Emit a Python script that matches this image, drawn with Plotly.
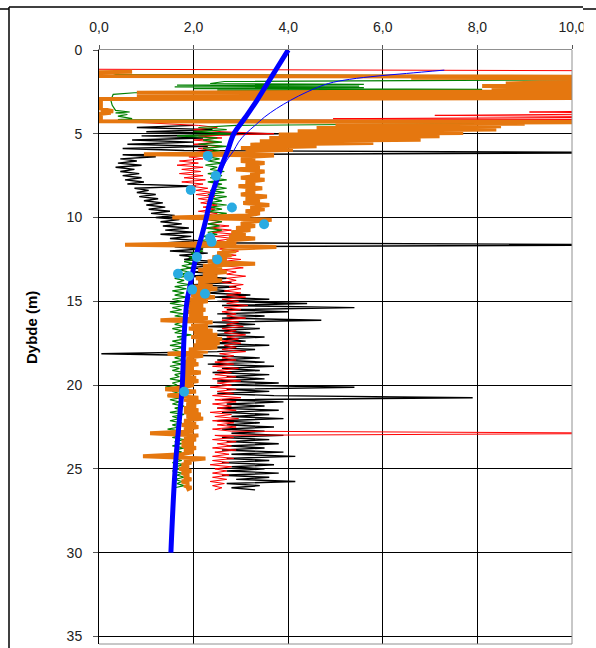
import plotly.graph_objects as go

# ---------------- data ----------------
STEP = 0.125

# black series (regular depth grid from 4.5 m)
black_start = 4.5
black_vals = [
    2.0, 0.8, 2.4, 1.0, 3.8, 0.9, 2.2, 0.7,
    2.0, 0.6, 2.3, 0.5, 1.8, 12.0, 0.5, 1.2,
    0.45, 0.8, 0.4, 0.9, 0.35, 0.75, 0.45, 0.85,
    0.5, 0.9, 0.55, 0.95, 0.6, 2.05, 0.75, 1.05,
    0.8, 1.2, 0.85, 1.25, 0.95, 1.35, 1.0, 1.4,
    1.05, 1.5, 1.1, 1.6, 1.2, 1.7, 1.3, 1.75,
    1.35, 1.9, 1.4, 2.0, 1.3, 1.95, 1.5, 2.1,
    1.45, 12.0, 1.6, 2.2, 1.5, 2.3, 1.7, 2.1,
    1.8, 2.45, 1.9, 2.4, 1.85, 2.6, 2.0, 2.5,
    1.9, 2.7, 2.1, 2.8, 2.0, 2.9, 2.2, 2.75,
    2.3, 3.2, 2.4, 3.6, 2.5, 4.4, 2.6, 5.4,
    2.7, 4.0, 2.5, 3.5, 2.6, 4.7, 2.4, 3.3,
    2.3, 3.4, 2.5, 3.2, 2.2, 3.5, 2.6, 3.1,
    2.4, 3.6, 2.3, 3.3, 2.5, 0.05, 2.4, 3.4,
    2.5, 3.5, 2.3, 3.7, 2.6, 3.4, 2.4, 3.6,
    2.7, 3.5, 2.5, 3.8, 2.6, 5.4, 2.7, 3.6,
    2.5, 3.7, 7.9, 2.6, 3.9, 2.7, 3.5, 2.5,
    3.8, 2.6, 3.6, 2.8, 3.9, 2.5, 3.4, 2.7,
    3.7, 2.6, 3.5, 2.8, 3.9, 2.6, 3.6, 2.7,
    3.8, 2.7, 3.5, 2.6, 3.9, 2.8, 4.15, 2.7,
    3.6, 2.6, 3.7, 2.8, 3.5, 2.7, 3.8, 2.6,
    3.6, 2.9, 4.15, 2.7, 3.4, 2.8, 3.3,
]

# red series: top part (irregular) + regular body from 4.5 m
red_top_depth = [1.15, 1.25, 3.6, 3.7, 3.8, 3.9, 4.0, 4.1, 4.15, 4.2]
red_top_vals = [0.0, 12.0, 12.0, 9.1, 12.0, 7.1, 12.0, 4.95, 12.0, 0.0]
red_start = 4.5
red_vals = [
    2.1, 2.5, 2.0, 2.6, 3.7, 2.1, 2.6, 2.0,
    2.5, 2.0, 2.6, 2.1, 2.4, 2.0, 2.5, 1.9,
    2.2, 1.7, 2.1, 1.65, 2.2, 1.75, 2.15, 1.7,
    2.2, 1.8, 2.25, 1.75, 2.2, 1.9, 2.3, 2.05,
    2.4, 2.05, 2.45, 2.1, 2.4, 2.15, 2.5, 2.2,
    2.45, 2.1, 2.5, 2.2, 2.55, 2.25, 2.6, 2.3,
    2.75, 2.35, 2.8, 2.4, 2.9, 2.45, 2.85, 2.5,
    2.9, 2.5, 2.8, 2.55, 2.95, 2.6, 2.9, 2.55,
    3.0, 2.6, 2.95, 2.65, 3.05, 2.6, 2.9, 2.7,
    3.1, 2.7, 2.9, 2.6, 3.05, 2.75, 3.0, 2.65,
    3.0, 2.7, 3.1, 2.6, 2.95, 2.7, 3.15, 2.65,
    3.0, 2.6, 2.9, 2.7, 3.1, 2.6, 2.95, 2.7,
    3.05, 2.6, 2.9, 2.65, 3.1, 2.7, 2.95, 2.6,
    3.0, 2.65, 2.9, 2.6, 3.1, 2.55, 2.85, 2.6,
    2.9, 2.45, 2.85, 2.4, 2.95, 2.5, 2.8, 2.45,
    2.9, 2.4, 3.0, 2.5, 2.8, 2.35, 2.9, 2.5,
    2.85, 2.4, 3.0, 2.45, 2.9, 2.4, 2.8, 2.5,
    2.9, 2.35, 2.8, 2.45, 2.95, 2.4, 2.85, 2.5,
    2.9, 2.4, 2.8, 12.0, 2.45, 2.85, 2.4, 2.9,
    2.5, 2.8, 2.4, 2.9, 2.45, 2.75, 2.4, 2.85,
    2.4, 2.75, 2.35, 2.8, 2.45, 2.7, 2.4, 2.75,
    2.4, 2.7, 2.35, 2.65, 2.4, 2.6, 2.45,
]

# green series
green_top_depth = [1.3, 1.38, 1.45, 1.58, 1.75, 1.88, 2.0, 2.05, 2.1, 2.15, 2.2, 2.25,
                   2.3, 2.35, 2.4, 2.45, 2.55, 2.65, 3.0, 3.3, 3.6, 3.7, 3.75, 3.85,
                   3.95, 4.1, 4.15, 4.3]
green_top_vals = [0.2, 0.3, 0.35, 12.0, 12.0, 2.65, 2.35, 5.6, 1.65, 5.5, 1.6, 5.6,
                  2.0, 8.1, 2.5, 5.0, 0.75, 0.3, 0.25, 0.28, 0.35, 0.65, 0.35, 0.6,
                  0.4, 0.7, 0.4, 12.0]
green_start = 4.5
green_vals = [
    2.9, 2.1, 2.7, 2.0, 2.85, 1.65, 2.5, 2.2,
    2.6, 2.1, 2.7, 2.2, 2.55, 2.25, 2.65, 2.3,
    2.55, 2.3, 2.6, 2.25, 2.5, 2.35, 2.65, 2.3,
    2.6, 2.35, 2.7, 2.3, 2.6, 2.4, 2.7, 2.35,
    2.65, 2.3, 2.7, 2.4, 2.6, 2.3, 2.7, 2.35,
    2.6, 2.3, 2.7, 2.4, 2.65, 2.35, 2.6, 2.3,
    2.55, 2.25, 2.6, 2.3, 2.5, 2.2, 2.45, 2.15,
    2.35, 2.05, 2.3, 2.0, 2.2, 1.95, 2.15, 1.9,
    2.05, 1.8, 2.0, 1.75, 1.95, 1.7, 1.9, 1.75,
    1.85, 1.6, 1.8, 1.65, 1.9, 1.6, 1.85, 1.55,
    1.8, 1.6, 1.85, 1.55, 1.75, 1.5, 1.8, 1.55,
    1.75, 1.5, 1.8, 1.6, 1.95, 1.55, 1.75, 1.6,
    1.8, 1.55, 1.75, 1.6, 1.95, 1.65, 1.8, 1.55,
    1.75, 1.5, 1.8, 1.55, 1.7, 1.5, 1.75, 1.6,
    1.8, 1.55, 1.75, 1.5, 1.7, 1.55, 1.8, 1.6,
    1.7, 1.5, 1.75, 1.55, 1.65, 1.4, 1.75, 1.55,
    1.7, 1.45, 1.75, 1.5, 1.7, 1.55, 1.8, 1.6,
    1.75, 1.5, 1.8, 1.55, 1.7, 1.5, 1.75, 1.55,
    1.7, 1.45, 1.75, 1.5, 1.7, 1.55, 1.8, 1.6,
    1.75, 1.55, 1.8, 1.6, 1.75, 1.5, 1.8, 1.6,
    1.75, 1.55, 1.8, 1.6, 1.7, 1.55, 1.75, 1.65,
    1.8, 1.6, 1.75, 1.65, 1.8, 1.6,
]

# orange series
orange_top_depth = [1.3, 1.33, 1.55, 1.6, 1.65, 1.72, 2.0, 2.05, 2.15, 2.25, 2.35, 2.45,
                    2.55, 2.62, 2.68, 2.74, 2.8, 2.86, 2.93, 3.5, 3.65, 3.7, 3.75, 3.8,
                    4.25, 4.3,
                    4.35, 4.4, 4.45, 4.55, 4.65, 4.75, 4.85, 4.95, 5.05, 5.15, 5.25,
                    5.35, 5.45, 5.55, 5.65, 5.75, 5.85, 5.95, 6.05, 6.15, 6.22, 6.3, 6.4]
orange_top_vals = [0.7, 0.04, 0.04, 12.0, 6.6, 12.0, 8.6, 12.0, 8.1, 12.0, 8.3, 12.0,
                   0.8, 12.0, 0.8, 12.0, 0.85, 12.0, 0.04, 0.04, 0.3, 0.04, 0.25, 0.04,
                   0.04, 12.0,
                   5.5, 9.0, 5.0, 8.5, 4.6, 8.4, 4.2, 7.7, 3.8, 7.2, 3.6,
                   6.8, 3.4, 5.8, 3.2, 4.6, 3.0, 4.1, 3.1, 3.7, 0.95, 3.7, 3.0]
orange_start = 6.5
orange_vals = [
    3.3, 3.0, 3.5, 3.1, 3.4, 2.9, 3.5, 3.2,
    3.4, 3.0, 3.5, 3.1, 3.3, 2.95, 3.45, 3.1,
    3.3, 3.0, 3.55, 3.1, 3.4, 3.05, 3.6, 3.2,
    3.5, 3.1, 3.4, 3.15, 1.55, 3.65, 3.2, 3.0,
    3.3, 2.9, 3.2, 2.8, 3.1, 2.75, 3.3, 2.7,
    2.9, 0.55, 3.75, 2.6, 2.9, 2.5, 2.8, 2.4,
    2.7, 2.3, 3.3, 2.2, 2.6, 2.1, 2.7, 2.2,
    2.5, 2.05, 2.6, 2.1, 2.4, 2.0, 2.5, 2.05,
    2.35, 1.95, 2.45, 1.9, 2.3, 1.85, 2.2, 1.9,
    2.25, 1.85, 2.2, 1.9, 2.3, 1.3, 2.4, 1.95,
    2.3, 1.9, 2.4, 2.0, 2.5, 1.95, 2.6, 2.05,
    2.55, 2.0, 2.5, 1.9, 2.3, 1.45, 2.2, 1.85,
    2.05, 1.75, 2.1, 1.8, 2.0, 1.75, 2.15, 1.8,
    2.05, 1.75, 2.1, 1.8, 2.0, 1.8, 1.4, 2.05,
    1.8, 1.45, 2.1, 1.8, 2.15, 1.85, 2.05, 1.8,
    2.1, 1.8, 2.15, 1.85, 2.2, 1.8, 2.05, 1.75,
    2.1, 1.8, 2.0, 1.08, 2.1, 1.8, 2.05, 1.75,
    2.0, 1.75, 2.05, 1.8, 2.0, 1.75, 0.93, 2.25,
    1.8, 1.95, 1.75, 1.9, 1.7, 1.95, 1.75, 1.9,
    1.8, 1.95, 1.75, 1.9, 1.8, 1.95, 1.85,
]

# thin blue line
blue_thin_depth = [1.2, 1.4, 1.55, 1.75, 2.0, 2.5, 3.0, 3.5, 4.0, 4.5, 5.0, 5.5, 6.0, 6.5, 7.0, 8.0]
blue_thin_vals = [7.3, 6.5, 5.9, 5.3, 4.85, 4.4, 4.05, 3.75, 3.5, 3.3, 3.1, 2.95, 2.85, 2.72, 2.62, 2.47]

# thick blue curve
blue_depth = [0, 1, 2, 3, 4, 5, 6, 7, 8, 9, 10, 11, 12, 13, 14, 15, 17, 20, 25, 30]
blue_vals = [4.0, 3.78, 3.56, 3.34, 3.1, 2.85, 2.72, 2.58, 2.46, 2.35, 2.27, 2.18, 2.08,
             2.0, 1.93, 1.86, 1.8, 1.76, 1.61, 1.52]

# cyan measurement points
dot_depth = [6.32, 7.5, 8.35, 9.4, 10.4, 11.2, 11.45, 12.35, 12.5, 13.35, 13.5, 14.3, 14.55, 20.4]
dot_vals = [2.30, 2.47, 1.94, 2.81, 3.49, 2.35, 2.38, 2.07, 2.50, 1.67, 1.90, 1.97, 2.24, 1.80]

x_ticks = [0, 2, 4, 6, 8, 10]
y_ticks = [0, 5, 10, 15, 20, 25, 30, 35]


def grid(start, n):
    return [round(start + i * STEP, 4) for i in range(n)]


black_depth = grid(black_start, len(black_vals))
red_depth = red_top_depth + grid(red_start, len(red_vals))
red_all = red_top_vals + red_vals
green_depth = green_top_depth + grid(green_start, len(green_vals))
green_all = green_top_vals + green_vals
orange_depth = orange_top_depth + grid(orange_start, len(orange_vals))
orange_all = orange_top_vals + orange_vals

# ---------------- figure ----------------
fig = go.Figure()
fig.add_trace(go.Scatter(x=black_vals, y=black_depth, mode="lines",
                         line=dict(color="#000000", width=1.4)))
fig.add_trace(go.Scatter(x=red_all, y=red_depth, mode="lines",
                         line=dict(color="#FF0000", width=1)))
fig.add_trace(go.Scatter(x=green_all, y=green_depth, mode="lines",
                         line=dict(color="#008000", width=1.2)))
fig.add_trace(go.Scatter(x=orange_all, y=orange_depth, mode="lines",
                         line=dict(color="#E5770F", width=4)))
fig.add_trace(go.Scatter(x=blue_thin_vals, y=blue_thin_depth, mode="lines",
                         line=dict(color="#0000FF", width=1, shape="spline")))
fig.add_trace(go.Scatter(x=blue_vals, y=blue_depth, mode="lines",
                         line=dict(color="#0000FF", width=5, shape="spline")))
fig.add_trace(go.Scatter(x=dot_vals, y=dot_depth, mode="markers",
                         marker=dict(color="#29ABE2", size=10)))

W, H = 596, 648
L, R, T, B = 99, 24, 50, 4
pw, ph = W - L - R, H - T - B


def px(x):
    return (x - L) / pw


def py(y):
    return 1 - (y - T) / ph


shapes = [
    # right and bottom plot borders (gray)
    dict(type="line", xref="paper", yref="paper", x0=1, x1=1, y0=0, y1=1,
         line=dict(color="#909090", width=1)),
    dict(type="line", xref="paper", yref="paper", x0=0, x1=1, y0=0, y1=0,
         line=dict(color="#909090", width=1)),
    # white cover clipping the last tick label
    dict(type="rect", xref="paper", yref="paper", x0=px(583.5), x1=px(600), y0=py(46), y1=py(9),
         fillcolor="white", line=dict(width=0), layer="above"),
    # outer frame
    dict(type="line", xref="paper", yref="paper", x0=px(9), x1=px(9), y0=py(7), y1=py(660),
         line=dict(color="#000000", width=1.5), layer="above"),
    dict(type="line", xref="paper", yref="paper", x0=px(9), x1=px(583), y0=py(7), y1=py(7),
         line=dict(color="#000000", width=1.5), layer="above"),
    dict(type="line", xref="paper", yref="paper", x0=px(583), x1=px(600), y0=py(9), y1=py(9),
         line=dict(color="#000000", width=1.5), layer="above"),
    dict(type="line", xref="paper", yref="paper", x0=px(-5), x1=px(9), y0=py(9), y1=py(9),
         line=dict(color="#000000", width=1.5), layer="above"),
]

fig.update_layout(
    width=W, height=H,
    margin=dict(l=L, r=R, t=T, b=B),
    paper_bgcolor="white", plot_bgcolor="white",
    showlegend=False,
    separators=", ",
    font=dict(family="Liberation Sans, Arial, sans-serif", size=14, color="#222222"),
    shapes=shapes,
    annotations=[dict(text="<b>Dybde (m)</b>", xref="paper", yref="paper",
                      x=px(31), y=py(328), textangle=-90, showarrow=False,
                      font=dict(size=15, color="#000000",
                                family="Liberation Sans, Arial, sans-serif"),
                      xanchor="center", yanchor="middle")],
)

fig.update_xaxes(
    side="top", range=[0, 10], tickvals=x_ticks, tickformat=".1f",
    showgrid=True, gridcolor="#000000", gridwidth=1,
    showline=True, linecolor="#909090", linewidth=1,
    ticks="outside", ticklen=4, tickcolor="#555555",
    ticklabelstandoff=7, zeroline=False, automargin=False,
)
fig.update_yaxes(
    range=[35.45, 0], tickvals=y_ticks,
    showgrid=True, gridcolor="#000000", gridwidth=1,
    showline=True, linecolor="#000000", linewidth=1,
    ticks="outside", ticklen=5, tickcolor="#555555",
    ticklabelstandoff=8, zeroline=False, automargin=False,
)

fig.write_html("out.html",
               config={"displayModeBar": False},
               post_script="document.body.style.margin='0';document.body.style.padding='0';")
